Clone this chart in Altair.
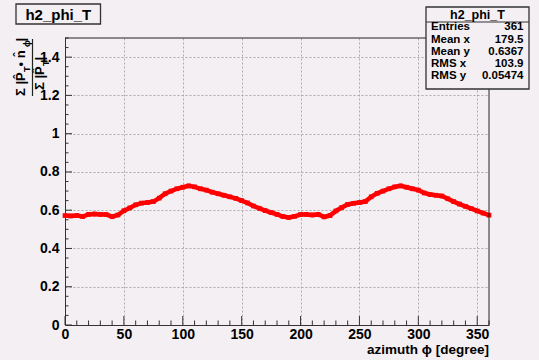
import altair as alt
import pandas as pd

# Azimuthal profile of the transverse-momentum ratio, sampled every 5 degrees
PHI = list(range(0, 361, 5))
RATIO = [
    0.572, 0.570, 0.572, 0.567, 0.578, 0.580, 0.578, 0.577, 0.566, 0.575,
    0.597, 0.612, 0.628, 0.637, 0.640, 0.645, 0.663, 0.686, 0.700, 0.712,
    0.720, 0.727, 0.722, 0.712, 0.705, 0.694, 0.686, 0.678, 0.670, 0.662,
    0.650, 0.638, 0.622, 0.610, 0.598, 0.588, 0.578, 0.567, 0.562, 0.568,
    0.577, 0.578, 0.575, 0.578, 0.565, 0.572, 0.596, 0.614, 0.630, 0.636,
    0.640, 0.645, 0.670, 0.688, 0.700, 0.712, 0.722, 0.727, 0.720, 0.712,
    0.705, 0.690, 0.682, 0.678, 0.674, 0.660, 0.645, 0.632, 0.620, 0.608,
    0.596, 0.585, 0.574,
]

X_MAJOR = [0, 50, 100, 150, 200, 250, 300, 350]
X_MINOR = [10, 20, 30, 40, 60, 70, 80, 90, 110, 120, 130, 140, 160, 170, 180,
           190, 210, 220, 230, 240, 260, 270, 280, 290, 310, 320, 330, 340, 360]
Y_MAJOR = [0, 0.2, 0.4, 0.6, 0.8, 1.0, 1.2, 1.4]
Y_MINOR = [0.05, 0.1, 0.15, 0.25, 0.3, 0.35, 0.45, 0.5, 0.55, 0.65, 0.7, 0.75,
           0.85, 0.9, 0.95, 1.05, 1.1, 1.15, 1.25, 1.3, 1.35, 1.45, 1.5]

HIST_NAME = "h2_phi_T"
STAT_NAMES = ["Entries", "Mean x", "Mean y", "RMS x", "RMS y"]
STAT_VALUES = ["361", "179.5", "0.6367", "103.9", "0.05474"]
STAT_ROWS = [-11.5, 1.5, 13.5, 25.5, 37.5]
X_TITLE = "azimuth ϕ [degree]"

BG = "#f3eff3"
RED = "#ff0000"
FONT = "Liberation Sans"
W, H = 424, 287

xs = alt.Scale(domain=[0, 360], nice=False, zero=False)
ys = alt.Scale(domain=[0, 1.5], nice=False, zero=False)

AX_X = alt.Axis(
    values=X_MAJOR, title=None, grid=True, gridDash=[2, 2], gridColor="#9a9a9a",
    gridWidth=0.8, ticks=False, labelFont=FONT, labelFontSize=14,
    labelFontWeight="bold", labelColor="black", labelPadding=2,
    labelFlush=False, labelOverlap=False, domainColor="#333")
AX_Y = alt.Axis(
    values=Y_MAJOR, format="~g", title=None, grid=True, gridDash=[2, 2],
    gridColor="#9a9a9a", gridWidth=0.8, ticks=False, labelFont=FONT,
    labelFontSize=14, labelFontWeight="bold", labelColor="black",
    labelPadding=6, labelOverlap=False, domainColor="#333")

df = pd.DataFrame({"phi": PHI, "ratio": RATIO})
one = pd.DataFrame({"k": [0]})

line = alt.Chart(df).mark_line(color=RED, strokeWidth=4.5).encode(
    x=alt.X("phi:Q", scale=xs, axis=AX_X),
    y=alt.Y("ratio:Q", scale=ys, axis=AX_Y),
)
pts = alt.Chart(df).mark_square(color=RED, size=22, opacity=1).encode(
    x=alt.X("phi:Q", scale=xs, axis=AX_X),
    y=alt.Y("ratio:Q", scale=ys, axis=AX_Y),
)

# inward ticks along the bottom and left axes
xmaj = alt.Chart(pd.DataFrame({"phi": X_MAJOR})).mark_rule(color="#333").encode(
    x=alt.X("phi:Q", scale=xs, axis=AX_X), y=alt.value(H), y2=alt.value(H - 9))
xmin = alt.Chart(pd.DataFrame({"phi": X_MINOR})).mark_rule(color="#333").encode(
    x=alt.X("phi:Q", scale=xs, axis=AX_X), y=alt.value(H), y2=alt.value(H - 4.5))
ymaj = alt.Chart(pd.DataFrame({"ratio": Y_MAJOR})).mark_rule(color="#333").encode(
    y=alt.Y("ratio:Q", scale=ys, axis=AX_Y), x=alt.value(0), x2=alt.value(7))
ymin = alt.Chart(pd.DataFrame({"ratio": Y_MINOR})).mark_rule(color="#333").encode(
    y=alt.Y("ratio:Q", scale=ys, axis=AX_Y), x=alt.value(0), x2=alt.value(3.5))

# frame: top and right edges
top_edge = alt.Chart(one).mark_rule(color="#222").encode(
    x=alt.value(0), x2=alt.value(W), y=alt.value(0))
right_edge = alt.Chart(one).mark_rule(color="#222").encode(
    x=alt.value(W), y=alt.value(0), y2=alt.value(H))


def label(text, x, y, size=13, align="center", angle=0):
    kw = dict(text=text, font=FONT, fontSize=size, fontWeight="bold",
              color="black", align=align, baseline="middle")
    if angle:
        kw["angle"] = angle
    return alt.Chart(one).mark_text(**kw).encode(x=alt.value(x), y=alt.value(y))


# histogram name box
name_box = alt.Chart(one).mark_rect(fill=BG, stroke="#333", strokeWidth=1.3).encode(
    x=alt.value(-49), x2=alt.value(35.5), y=alt.value(-34), y2=alt.value(-14))
name_txt = label(HIST_NAME, -6.7, -23.5, size=15)

# statistics box
stat_box = alt.Chart(one).mark_rect(fill=BG, stroke="#333", strokeWidth=1.3).encode(
    x=alt.value(361), x2=alt.value(464), y=alt.value(-31), y2=alt.value(51))
stat_div = alt.Chart(one).mark_rule(color="#333").encode(
    x=alt.value(361), x2=alt.value(464), y=alt.value(-16))
stat_layers = [label(HIST_NAME, 412.5, -23.5, size=12.5)]
for name, val, row in zip(STAT_NAMES, STAT_VALUES, STAT_ROWS):
    stat_layers.append(label(name, 366, row, size=11.5, align="left"))
    stat_layers.append(label(val, 458.5, row, size=11.5, align="right"))

# axis titles; the y title is a rotated fraction built from pieces
x_title = label(X_TITLE, W, H + 25, size=13.5, align="right")
num = [
    label("Σ |P̂", -44, 58, size=13, align="left", angle=270),
    label("T", -38, 34, size=9, align="left", angle=270),
    label(" • n̂", -44, 28.5, size=13, align="left", angle=270),
    label("ϕ", -38, 9, size=9, align="left", angle=270),
    label("|", -44, 3.5, size=13, align="left", angle=270),
]
den = [
    label("Σ |P̂", -25, 52, size=13, align="left", angle=270),
    label("T", -19, 28, size=9, align="left", angle=270),
    label("|", -25, 22.5, size=13, align="left", angle=270),
]
y_bar = alt.Chart(one).mark_rule(color="#222", strokeWidth=1.2).encode(
    x=alt.value(-32.5), y=alt.value(1), y2=alt.value(58))

chart = alt.layer(
    line, pts, xmaj, xmin, ymaj, ymin, top_edge, right_edge,
    name_box, name_txt, stat_box, stat_div, *stat_layers,
    x_title, *num, *den, y_bar,
).properties(
    width=W, height=H,
    autosize=alt.AutoSizeParams(type="none"),
    padding={"left": 65, "top": 38, "right": 50, "bottom": 35},
    background=BG,
).configure_view(stroke=None, fill=BG)

chart.save("out.html", embed_options={"renderer": "svg", "actions": False})
